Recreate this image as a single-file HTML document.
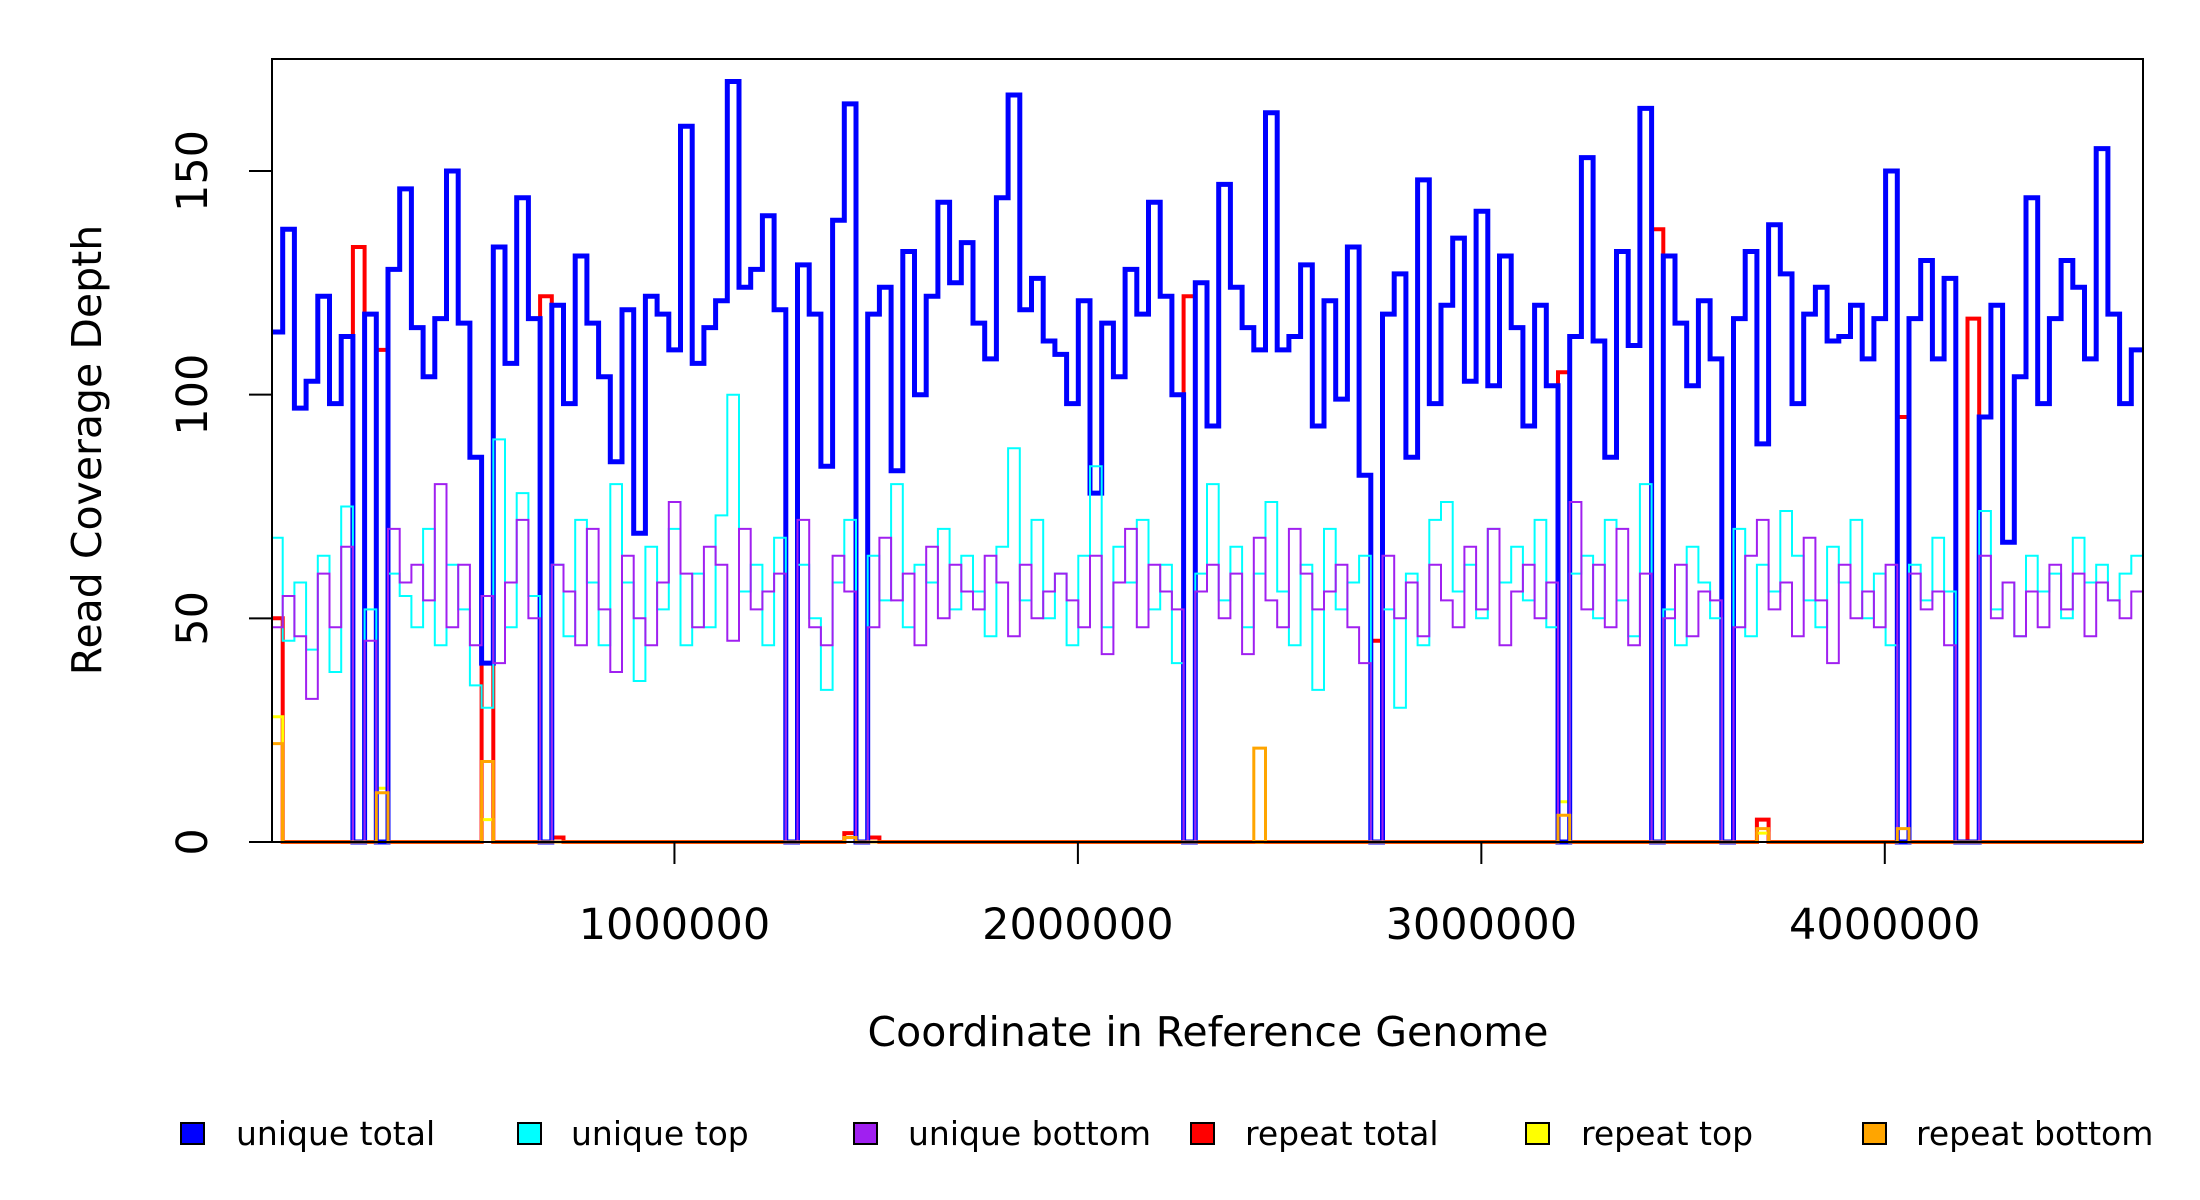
<!DOCTYPE html>
<html><head><meta charset="utf-8"><style>
html,body{margin:0;padding:0;background:#fff;}
svg{display:block;font-family:"DejaVu Sans","Liberation Sans",sans-serif;}
</style></head><body>
<svg id="chart" width="2200" height="1200" viewBox="0 0 2200 1200" xmlns="http://www.w3.org/2000/svg">
<rect width="2200" height="1200" fill="#fff"/>
<g id="series"></g>
<rect x="272" y="59" width="1871" height="783" fill="none" stroke="#000" stroke-width="2"/>
<g id="axes"></g>
<text x="1208" y="1046" font-size="41" text-anchor="middle">Coordinate in Reference Genome</text>
<text x="0" y="0" font-size="41" text-anchor="middle" transform="translate(101,450) rotate(-90)">Read Coverage Depth</text>
<g font-size="33">
 <g><rect x="181" y="1123" width="23" height="21" fill="#0000ff" stroke="#000" stroke-width="2"/><text x="236" y="1145">unique total</text></g>
 <g><rect x="518" y="1123" width="23" height="21" fill="#00ffff" stroke="#000" stroke-width="2"/><text x="571" y="1145">unique top</text></g>
 <g><rect x="854" y="1123" width="23" height="21" fill="#a020f0" stroke="#000" stroke-width="2"/><text x="908" y="1145">unique bottom</text></g>
 <g><rect x="1191" y="1123" width="23" height="21" fill="#ff0000" stroke="#000" stroke-width="2"/><text x="1245" y="1145">repeat total</text></g>
 <g><rect x="1526" y="1123" width="23" height="21" fill="#ffff00" stroke="#000" stroke-width="2"/><text x="1581" y="1145">repeat top</text></g>
 <g><rect x="1863" y="1123" width="23" height="21" fill="#ffa500" stroke="#000" stroke-width="2"/><text x="1916" y="1145">repeat bottom</text></g>
</g>
</svg>
<script>
const genomeLength = 4640000;
const xTicks = [1000000, 2000000, 3000000, 4000000];
const yTicks = [0, 50, 100, 150];
const uniqueTotal = [114,137,97,103,122,98,113,0,118,0,
128,146,115,104,117,150,116,86,40,133,
107,144,117,0,120,98,131,116,104,85,
119,69,122,118,110,160,107,115,121,170,
124,128,140,119,0,129,118,84,139,165,
0,118,124,83,132,100,122,143,125,134,
116,108,144,167,119,126,112,109,98,121,
78,116,104,128,118,143,122,100,0,125,
93,147,124,115,110,163,110,113,129,93,
121,99,133,82,0,118,127,86,148,98,
120,135,103,141,102,131,115,93,120,102,
0,113,153,112,86,132,111,164,0,131,
116,102,121,108,0,117,132,89,138,127,
98,118,124,112,113,120,108,117,150,0,
117,130,108,126,0,0,95,120,67,104,
144,98,117,130,124,108,155,118,98,110];
const uniqueTop = [68,45,58,43,64,38,75,0,52,0,
60,55,48,70,44,62,52,35,30,90,
48,78,55,0,62,46,72,58,44,80,
58,36,66,52,70,44,60,48,73,100,
56,62,44,68,0,62,50,34,58,72,
0,64,54,80,48,62,58,70,52,64,
56,46,66,88,54,72,50,60,44,64,
84,48,66,58,72,52,62,40,0,60,
80,54,66,48,60,76,56,44,62,34,
70,52,58,64,0,52,30,60,44,72,
76,56,62,50,70,58,66,54,72,48,
0,60,64,50,72,54,46,80,0,52,
44,66,58,50,0,70,46,62,56,74,
64,54,48,66,58,72,50,60,44,0,
62,54,68,56,0,0,74,52,58,46,
64,56,60,50,68,58,62,54,60,64];
const uniqueBottom = [48,55,46,32,60,48,66,0,45,0,
70,58,62,54,80,48,62,44,55,40,
58,72,50,0,62,56,44,70,52,38,
64,50,44,58,76,60,48,66,62,45,
70,52,56,60,0,72,48,44,64,56,
0,48,68,54,60,44,66,50,62,56,
52,64,58,46,62,50,56,60,54,48,
64,42,58,70,48,62,56,52,0,56,
62,50,60,42,68,54,48,70,60,52,
56,62,48,40,0,64,50,58,46,62,
54,48,66,52,70,44,56,62,50,58,
0,76,52,62,48,70,44,60,0,50,
62,46,56,54,0,48,64,72,52,58,
46,68,54,40,62,50,56,48,62,0,
60,52,56,44,0,0,64,50,58,46,
56,48,62,52,60,46,58,54,50,56];
const repeatTotal = [50,0,0,0,0,0,0,133,0,110,
0,0,0,0,0,0,0,0,40,0,
0,0,0,122,1,0,0,0,0,0,
0,0,0,0,0,0,0,0,0,0,
0,0,0,0,0,0,0,0,0,2,
0,1,0,0,0,0,0,0,0,0,
0,0,0,0,0,0,0,0,0,0,
0,0,0,0,0,0,0,0,122,0,
0,0,0,0,0,0,0,0,0,0,
0,0,0,0,45,0,0,0,0,0,
0,0,0,0,0,0,0,0,0,0,
105,0,0,0,0,0,0,0,137,0,
0,0,0,0,0,0,0,5,0,0,
0,0,0,0,0,0,0,0,0,95,
0,0,0,0,0,117,0,0,0,0,
0,0,0,0,0,0,0,0,0,0];
const repeatTop = [28,0,0,0,0,0,0,0,0,12,
0,0,0,0,0,0,0,0,5,0,
0,0,0,0,0,0,0,0,0,0,
0,0,0,0,0,0,0,0,0,0,
0,0,0,0,0,0,0,0,0,1,
0,0,0,0,0,0,0,0,0,0,
0,0,0,0,0,0,0,0,0,0,
0,0,0,0,0,0,0,0,0,0,
0,0,0,0,0,0,0,0,0,0,
0,0,0,0,0,0,0,0,0,0,
0,0,0,0,0,0,0,0,0,0,
9,0,0,0,0,0,0,0,0,0,
0,0,0,0,0,0,0,2,0,0,
0,0,0,0,0,0,0,0,0,0,
0,0,0,0,0,0,0,0,0,0,
0,0,0,0,0,0,0,0,0,0];
const repeatBottom = [22,0,0,0,0,0,0,0,0,11,
0,0,0,0,0,0,0,0,18,0,
0,0,0,0,0,0,0,0,0,0,
0,0,0,0,0,0,0,0,0,0,
0,0,0,0,0,0,0,0,0,1,
0,0,0,0,0,0,0,0,0,0,
0,0,0,0,0,0,0,0,0,0,
0,0,0,0,0,0,0,0,0,0,
0,0,0,0,21,0,0,0,0,0,
0,0,0,0,0,0,0,0,0,0,
0,0,0,0,0,0,0,0,0,0,
6,0,0,0,0,0,0,0,0,0,
0,0,0,0,0,0,0,3,0,0,
0,0,0,0,0,0,0,0,0,3,
0,0,0,0,0,0,0,0,0,0,
0,0,0,0,0,0,0,0,0,0];

const NS = "http://www.w3.org/2000/svg";
const L = 271, R = 2143, Y0 = 842;
function xs(v){ return L + (R - L) * v / genomeLength; }
function ys(v){ return Y0 - v * (842 - 171) / 150; }
const seriesG = document.getElementById('series');
const axesG = document.getElementById('axes');

function stepPath(arr){
  const n = arr.length, bw = genomeLength / n;
  let d = "M" + xs(0).toFixed(1) + " " + ys(arr[0]).toFixed(1);
  for (let i = 0; i < n; i++){
    d += " H" + xs((i + 1) * bw).toFixed(1);
    if (i + 1 < n) d += " V" + ys(arr[i + 1]).toFixed(1);
  }
  return d;
}
function addSeries(arr, color, w, name){
  const p = document.createElementNS(NS, 'path');
  p.setAttribute('d', stepPath(arr));
  p.setAttribute('fill', 'none');
  p.setAttribute('stroke', color);
  p.setAttribute('stroke-width', w);
  p.setAttribute('stroke-linejoin', 'miter');
  
  
  seriesG.appendChild(p);
}
addSeries(repeatTotal, '#ff0000', 4, 'repeat-total-line');
addSeries(repeatTop, '#ffff00', 3, 'repeat-top-line');
addSeries(uniqueTotal, '#0000ff', 5, 'unique-total-line');
addSeries(uniqueTop, '#00ffff', 2, 'unique-top-line');
addSeries(uniqueBottom, '#a020f0', 2, 'unique-bottom-line');
addSeries(repeatBottom, '#ffa500', 3, 'repeat-bottom-line');

yTicks.forEach(function(t){
  const y = ys(t);
  const ln = document.createElementNS(NS, 'line');
  ln.setAttribute('x1', L - 22); ln.setAttribute('x2', L);
  ln.setAttribute('y1', y); ln.setAttribute('y2', y);
  ln.setAttribute('stroke', '#000'); ln.setAttribute('stroke-width', 2);
  
  
  axesG.appendChild(ln);
  const tx = document.createElementNS(NS, 'text');
  tx.setAttribute('transform', 'translate(207,' + y + ') rotate(-90)');
  tx.setAttribute('text-anchor', 'middle');
  tx.setAttribute('font-size', '43');
  tx.textContent = String(t);
  
  
  axesG.appendChild(tx);
});
xTicks.forEach(function(t){
  const x = xs(t);
  const ln = document.createElementNS(NS, 'line');
  ln.setAttribute('x1', x); ln.setAttribute('x2', x);
  ln.setAttribute('y1', Y0); ln.setAttribute('y2', Y0 + 22);
  ln.setAttribute('stroke', '#000'); ln.setAttribute('stroke-width', 2);
  
  
  axesG.appendChild(ln);
  const tx = document.createElementNS(NS, 'text');
  tx.setAttribute('x', x); tx.setAttribute('y', 939);
  tx.setAttribute('text-anchor', 'middle');
  tx.setAttribute('font-size', '43');
  tx.textContent = String(t);
  
  
  axesG.appendChild(tx);
});
</script>
</body></html>
